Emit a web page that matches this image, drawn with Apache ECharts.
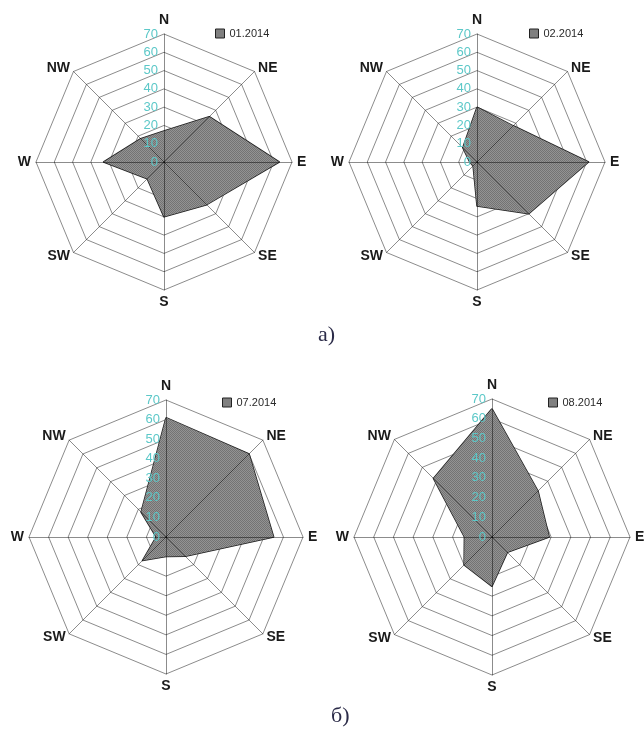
<!DOCTYPE html>
<html>
<head>
<meta charset="utf-8">
<script src="https://cdn.jsdelivr.net/npm/echarts@6/dist/echarts.min.js"></script>
<style>
  html, body { margin: 0; padding: 0; background: #fff; }
  #chart { width: 644px; height: 731px; }
</style>
</head>
<body>
<div id="chart"></div>
<script>
// Wind directions, listed clockwise from north
const directions = ['N', 'NE', 'E', 'SE', 'S', 'SW', 'W', 'NW'];
// Radial scale (frequency, %)
const scaleMax = 70;
const scaleSplits = 7;
// Month labels
const months = ['01.2014', '02.2014', '07.2014', '08.2014'];
// Wind frequencies per direction, same order as `directions`
const jan2014 = [17, 35, 63, 33, 30, 13, 33, 18];
const feb2014 = [30, 28, 61, 40, 24, 3, 4, 11];
const jul2014 = [61, 60, 55, 14, 10, 17, 5, 18];
const aug2014 = [65, 33, 29, 11, 25, 20, 14, 42];
const monthValues = [jan2014, feb2014, jul2014, aug2014];
const captions = ['а)', 'б)'];

// Layout of the four roses
const panels = [
  { center: [164, 162], radius: 128, legend: [215, 28] },
  { center: [477, 162], radius: 128, legend: [529, 28] },
  { center: [166, 537], radius: 137, legend: [222, 397] },
  { center: [492, 537], radius: 138, legend: [548, 397] }
];

// ECharts lays radar indicators out counter-clockwise from the top,
// so reverse the clockwise compass order after the first entry.
const ccwOrder = [0, 7, 6, 5, 4, 3, 2, 1];
const reorder = arr => ccwOrder.map(i => arr[i]);

// Fine dotted gray fill
function makePattern() {
  const c = document.createElement('canvas');
  c.width = 2; c.height = 2;
  const g = c.getContext('2d');
  g.fillStyle = '#939393'; g.fillRect(0, 0, 2, 2);
  g.fillStyle = '#737373'; g.fillRect(0, 0, 1, 1); g.fillRect(1, 1, 1, 1);
  return c;
}
const pattern = { image: makePattern(), repeat: 'repeat' };

const nameFont = { color: '#1a1a1a', fontWeight: 'bold', fontSize: 14, fontFamily: 'Liberation Sans, Arial, sans-serif' };

function indicators(withLabels) {
  return reorder(directions).map(d => {
    const ind = { name: d, max: scaleMax, min: 0 };
    if (withLabels && d === 'N') ind.axisLabel = { show: true };
    return ind;
  });
}

const radars = [];
// Base grids: octagonal rings only
panels.forEach(p => {
  radars.push({
    center: p.center, radius: p.radius, shape: 'polygon',
    splitNumber: scaleSplits, indicator: indicators(false),
    axisName: { show: false },
    axisLine: { show: false },
    axisTick: { show: false },
    axisLabel: { show: false },
    splitArea: { show: false },
    splitLine: { lineStyle: { color: '#8c8c8c', width: 1 } },
    z: 0
  });
});
// Overlays drawn above the filled areas: spokes, direction names, scale labels
panels.forEach(p => {
  radars.push({
    center: p.center, radius: p.radius, shape: 'polygon',
    splitNumber: scaleSplits, indicator: indicators(true),
    nameGap: 5,
    axisName: nameFont,
    axisLine: { show: true, lineStyle: { color: 'rgba(0,0,0,0.45)', width: 1 } },
    axisTick: { show: false },
    axisLabel: { show: false, color: '#5cc8c8', fontSize: 13, margin: 6, fontFamily: 'Liberation Sans, Arial, sans-serif' },
    splitLine: { show: false },
    splitArea: { show: false },
    z: 5
  });
});

const series = months.map((m, i) => ({
  type: 'radar',
  name: m,
  radarIndex: i,
  symbol: 'none',
  silent: true,
  z: 2,
  lineStyle: { color: '#1e1e1e', width: 1.5 },
  itemStyle: { color: '#808080' },
  areaStyle: { color: pattern, opacity: 1 },
  data: [{ name: m, value: reorder(monthValues[i]) }]
}));

const legends = months.map((m, i) => ({
  data: [m],
  left: panels[i].legend[0],
  top: panels[i].legend[1],
  orient: 'horizontal',
  icon: 'rect',
  itemWidth: 9,
  itemHeight: 9,
  padding: 0,
  selectedMode: false,
  itemStyle: { color: '#808080', borderColor: '#222', borderWidth: 1 },
  textStyle: { fontSize: 11, color: '#2a2a2a', fontFamily: 'Liberation Sans, Arial, sans-serif' }
}));

const captionStyle = { fill: '#2b2b48', font: '22px "Liberation Serif", "DejaVu Serif", serif', textAlign: 'center', textVerticalAlign: 'middle' };

const chart = echarts.init(document.getElementById('chart'), null, { renderer: 'canvas' });
chart.setOption({
  animation: false,
  backgroundColor: '#ffffff',
  legend: legends,
  radar: radars,
  series: series,
  graphic: [
    { type: 'text', left: 318, top: 324, style: Object.assign({ text: captions[0] }, captionStyle) },
    { type: 'text', left: 331, top: 705, style: Object.assign({ text: captions[1] }, captionStyle) }
  ]
});
</script>
</body>
</html>
